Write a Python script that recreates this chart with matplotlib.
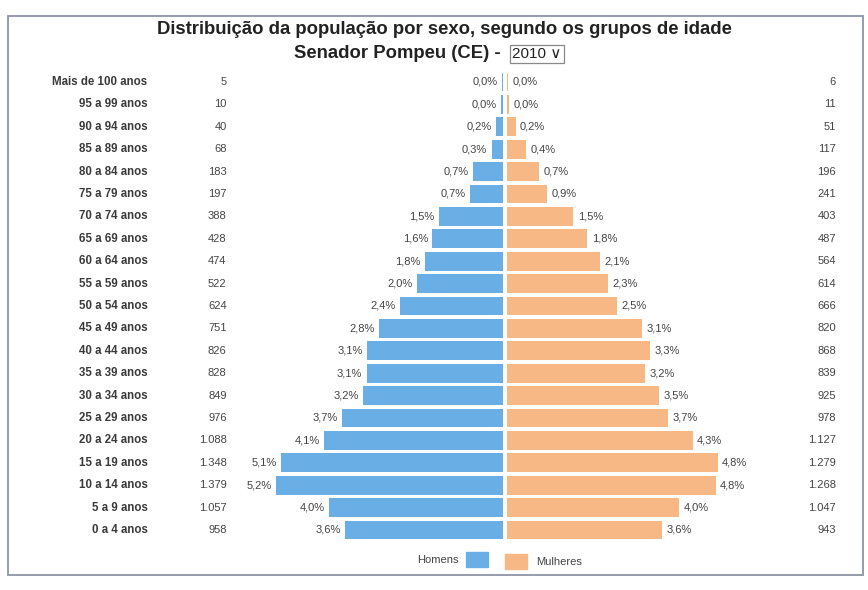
import numpy as np
import matplotlib
matplotlib.use("Agg")
import matplotlib.pyplot as plt
from matplotlib.patches import Patch, Rectangle
import matplotlib.transforms as mtransforms

plt.rcParams['font.family'] = ['Liberation Sans', 'DejaVu Sans']

# age groups, top to bottom
ages = ["Mais de 100 anos", "95 a 99 anos", "90 a 94 anos", "85 a 89 anos",
        "80 a 84 anos", "75 a 79 anos", "70 a 74 anos", "65 a 69 anos",
        "60 a 64 anos", "55 a 59 anos", "50 a 54 anos", "45 a 49 anos",
        "40 a 44 anos", "35 a 39 anos", "30 a 34 anos", "25 a 29 anos",
        "20 a 24 anos", "15 a 19 anos", "10 a 14 anos", "5 a 9 anos",
        "0 a 4 anos"]
homens = [5, 10, 40, 68, 183, 197, 388, 428, 474, 522, 624, 751, 826, 828,
          849, 976, 1088, 1348, 1379, 1057, 958]
mulheres = [6, 11, 51, 117, 196, 241, 403, 487, 564, 614, 666, 820, 868, 839,
            925, 978, 1127, 1279, 1268, 1047, 943]
pct_h = [0.0, 0.0, 0.2, 0.3, 0.7, 0.7, 1.5, 1.6, 1.8, 2.0, 2.4, 2.8, 3.1, 3.1,
         3.2, 3.7, 4.1, 5.1, 5.2, 4.0, 3.6]
pct_m = [0.0, 0.0, 0.2, 0.4, 0.7, 0.9, 1.5, 1.8, 2.1, 2.3, 2.5, 3.1, 3.3, 3.2,
         3.5, 3.7, 4.3, 4.8, 4.8, 4.0, 3.6]

blue = "#6aaee6"
orange = "#f8b886"
txt = "#444444"
fs = 8


def fmt_pct(v):
    return f"{v:.1f}".replace(".", ",") + "%"


def fmt_int(v):
    return f"{v:,}".replace(",", ".")


n = len(ages)
y = np.arange(n)[::-1]          # top group at highest y
# bar lengths from counts (share of total population)
total = sum(homens) + sum(mulheres)
len_h = np.array(homens) / total * 100
len_m = np.array(mulheres) / total * 100

fig = plt.figure(figsize=(8.68, 5.90), dpi=100)
ax = fig.add_axes([0, 0, 1, 1])
ax.set_xlim(-505 / 43.5, (868 - 505) / 43.5)
ax.set_ylim((530 - 590) / 22.4, 530 / 22.4)
ax.axis("off")

gap = 0.05
ax.barh(y, -len_h, left=-gap, height=0.84, color=blue)
ax.barh(y, len_m, left=gap, height=0.84, color=orange)

tr = mtransforms.blended_transform_factory(ax.transAxes, ax.transData)
for i in range(n):
    ax.text(0.170, y[i], ages[i], transform=tr, ha="right", va="center",
            fontsize=8.3, fontweight="bold", color="#3a3a3a")
    ax.text(0.261, y[i], fmt_int(homens[i]), transform=tr, ha="right",
            va="center", fontsize=fs, color=txt)
    ax.text(0.963, y[i], fmt_int(mulheres[i]), transform=tr, ha="right",
            va="center", fontsize=fs, color=txt)
    ax.text(-len_h[i] - gap - 0.1, y[i], fmt_pct(pct_h[i]), ha="right",
            va="center", fontsize=fs, color=txt)
    ax.text(len_m[i] + gap + 0.1, y[i], fmt_pct(pct_m[i]), ha="left",
            va="center", fontsize=fs, color=txt)

# title
fig.text(0.512, 1 - 30 / 590, "Distribuição da população por sexo, segundo os grupos de idade",
         ha="center", va="center", fontsize=13.3, fontweight="bold", color="#222222")
fig.text(0.583, 1 - 53 / 590, "Senador Pompeu (CE) - ", ha="right", va="center",
         fontsize=13.3, fontweight="bold", color="#222222")
fig.text(0.590, 1 - 54 / 590, "2010 \u2228", ha="left", va="center",
         fontsize=11, color="#222222",
         bbox=dict(boxstyle="square,pad=0.15", fc="white", ec="#888888", lw=0.9))

# legend
l1 = ax.legend(handles=[Patch(color=blue)], labels=["Homens"], loc="center right",
               bbox_to_anchor=(488 / 868, 1 - 559 / 590), bbox_transform=fig.transFigure,
               frameon=False, markerfirst=False, fontsize=fs, handlelength=2.0,
               handleheight=1.7, handletextpad=0.6, labelcolor=txt,
               borderpad=0, borderaxespad=0)
ax.add_artist(l1)
ax.legend(handles=[Patch(color=orange)], labels=["Mulheres"], loc="center left",
          bbox_to_anchor=(505 / 868, 1 - 561 / 590), bbox_transform=fig.transFigure,
          frameon=False, fontsize=fs, handlelength=2.0, handleheight=1.7,
          handletextpad=0.8, labelcolor=txt, borderpad=0, borderaxespad=0)

# outer frame of the chart panel
fig.add_artist(Rectangle((0.009, 1 - 575 / 590), 0.985, (575 - 16) / 590,
                         transform=fig.transFigure, fill=False,
                         ec="#8e94a6", lw=1.3))

fig.savefig("out.png", dpi=100, facecolor="white")
